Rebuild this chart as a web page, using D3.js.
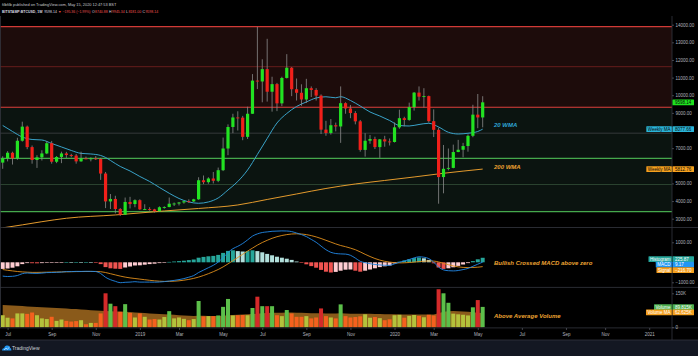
<!DOCTYPE html>
<html><head><meta charset="utf-8">
<script src="https://cdn.jsdelivr.net/npm/d3@7"></script>
<style>html,body{margin:0;padding:0;background:#000;overflow:hidden}svg{display:block}text{font-family:"Liberation Sans",Arial,sans-serif}</style>
</head><body>
<svg id="c" width="698" height="356"></svg>
<script>
// ---------- DATA ----------
const openP = [6180,6420,6740,6420,7420,8220,7060,6330,6480,6700,
 7280,6230,6500,6700,6610,6580,6250,6420,6410,6420,
 6390,5560,3980,4120,3550,3230,3950,3830,4050,3530,
 3550,3530,3420,3650,3660,3850,3860,3920,3990,3980,
 4100,5180,5070,5280,5150,5750,6980,8200,8740,8730,
 7640,8950,10830,10780,11480,10200,10630,9540,10980,11560,
 10340,10140,9760,10400,10300,9980,8050,7860,8300,8230,
 9550,9250,8990,8520,6900,7420,7520,7060,7500,7380,
 7350,8180,8700,8600,9330,10150,9920,9950,8530,8040,
 5360,5830,5880,6780,6910,7120,7700,8900,8740.88];
const closeP = [6420,6740,6420,7420,8220,7060,6330,6480,6700,7280,
 6230,6500,6700,6610,6580,6250,6420,6410,6420,6390,
 5560,3980,4120,3550,3230,3950,3830,4050,3530,3550,
 3530,3420,3650,3660,3850,3860,3920,3990,3980,4100,
 5180,5070,5280,5150,5750,6980,8200,8740,8730,7640,
 8950,10830,10780,11480,10200,10630,9540,10980,11560,10340,
 10140,9760,10400,10300,9980,8050,7860,8300,8230,9550,
 9250,8990,8520,6900,7420,7520,7060,7500,7380,7350,
 8180,8700,8600,9330,10150,9920,9950,8530,8040,5360,
 5830,5880,6780,6910,7120,7700,8900,8740.88,9598.14];
const highP = [6540,6830,6800,7590,8500,8280,7150,6600,6880,7400,
 7410,6550,6800,6790,6680,6670,6800,6520,6480,6550,
 6450,5650,4400,4300,3600,4200,4240,4100,4100,3820,
 3650,3560,3700,3700,4200,3920,3950,4000,4100,4130,
 5350,5450,5350,5650,5900,7600,8350,8950,9090,8830,
 9350,11200,13880,12040,13200,11050,10700,11050,12330,11600,
 10950,10620,10930,10500,10400,10050,8550,8650,8450,10500,
 9600,9450,9100,8600,7850,7750,7650,7520,7700,7550,
 8460,9180,8780,9580,10180,10500,10400,9980,9200,8160,
 7180,6980,7200,7470,7300,7780,9460,10070,9945.34];
const lowP = [5830,6250,6070,6340,7370,6940,6120,5880,6300,6660,
 6120,6150,6150,6450,6480,6120,6230,6370,6250,6330,
 5200,3600,3550,3300,3150,3220,3580,3650,3500,3500,
 3450,3350,3380,3570,3650,3720,3750,3850,3900,3940,
 4070,4960,4980,5000,5070,5700,6600,7850,8000,7450,
 7520,8950,10350,9600,9640,9070,9100,9380,10950,9950,
 9700,9400,9560,9900,9700,7800,7700,7770,7950,7300,
 8950,8700,8350,6800,6520,7250,6950,6450,7080,7150,
 7320,8100,8240,8550,9130,9700,9300,8450,7630,3850,
 4440,5740,5860,6770,6480,6800,7620,8130,8181];
// weekly volume (K BTC)
const volume = [53,42,39,61,61,59,65,53,39,36,
 46,28,34,28,25,27,31,13,19,19,
 61,150,104,93,68,102,63,43,61,46,
 34,36,34,45,71,39,43,37,31,36,
 116,48,49,49,52,90,125,52,53,54,
 53,85,135,93,93,93,53,49,76,61,
 46,46,49,39,43,83,49,43,39,101,
 49,43,45,48,57,42,45,40,31,35,
 53,55,42,50,54,50,44,55,52,168,
 150,108,60,57,55,52,88,120,89.815];
const volumeMA = [98,97,96,95,94,92,90,89,88,87,
 86,85,84,83,81,80,78,77,75,74,
 73,72,71,70,69,68,67,65,64,63,
 61,60,58,57,56,55,53,52,51,50,
 51,51,50,50,50,51,53,54,55,56,
 57,58,60,62,63,64,64,64,65,65,
 64,64,63,62,62,62,61,61,61,62,
 61,60,60,60,59,59,58,58,57,57,
 57,56,56,56,56,56,56,56,56,62,
 68,71,72,71,70,68,66,64,62.625];
const macdLine = [-690,-710,-700,-660,-570,-535,-550,-555,-540,-515,
 -510,-500,-490,-465,-465,-455,-457,-450,-453,-463,
 -560,-750,-870,-950,-1020,-1000,-990,-970,-990,-990,
 -990,-995,-985,-965,-935,-905,-865,-815,-745,-665,
 -510,-390,-270,-150,10,240,490,680,800,940,
 1120,1310,1420,1490,1520,1550,1560,1570,1565,1535,
 1465,1385,1285,1145,1000,810,630,500,440,420,
 410,350,210,50,-20,-70,-110,-130,-150,-150,
 -80,0,65,140,220,275,255,185,10,-240,
 -380,-420,-430,-410,-365,-305,-200,-95,9.17];
const signalLine = [-360,-400,-430,-460,-480,-495,-505,-505,-500,-495,
 -490,-485,-480,-475,-470,-465,-462,-460,-458,-458,
 -470,-510,-570,-630,-690,-740,-780,-810,-840,-870,
 -900,-925,-945,-955,-955,-945,-925,-895,-855,-805,
 -740,-660,-570,-470,-360,-230,-80,80,240,400,
 560,710,860,990,1100,1200,1280,1340,1385,1415,
 1425,1415,1385,1335,1270,1190,1100,1010,920,840,
 780,710,630,520,400,290,190,110,50,10,
 -20,-30,-25,-10,10,35,55,65,60,20,
 -50,-120,-180,-230,-255,-265,-260,-245,-216.70];
const histogram = [-330,-310,-270,-200,-90,-40,-45,-50,-40,-20,
 -20,-15,-10,10,5,10,5,10,5,-5,
 -90,-240,-300,-320,-330,-260,-210,-160,-150,-120,
 -90,-70,-40,-10,20,40,60,80,110,140,
 230,270,300,320,370,470,570,600,560,540,
 560,600,560,500,420,350,280,230,180,120,
 40,-30,-100,-190,-270,-380,-470,-510,-480,-420,
 -370,-360,-420,-470,-420,-360,-300,-240,-200,-160,
 -60,30,90,150,210,240,200,120,-50,-260,
 -330,-300,-250,-180,-110,-40,60,150,225.87];
// moving averages read at sampled weeks (index into weeks)
const wma20Idx = [0,2,4,6,8,10,12,14,16,18,20,21,22,24,26,28,30,32,34,36,38,40,42,44,46,48,50,52,54,56,58,60,62,64,66,68,69,71,73,75,77,79,81,83,85,87,89,91,93,95,97,98];
const wma20 = [8286,7946,7634,7492,7464,7265,7067,6868,6704,6670,6585,6472,6302,5962,5706,5394,5111,4771,4442,4147,3949,3875,3949,4176,4629,5111,5763,6642,7549,8427,8966,9363,9618,9845,9913,9856,9918,9703,9391,9051,8824,8569,8286,8257,8342,8410,8201,7900,7804,7844,7946,8077.66];
const wma200Idx = [0,4,8,13,23,33,40,48,54,60,66,72,78,84,90,98];
const wma200 = [2480,2650,2830,3025,3212,3439,3580,3779,4091,4402,4714,4969,5168,5366,5576,5812.76];
const levelPrices = [13890,11620,9320,7850,6420,4940,3400];
const priceTicks = [3000,4000,5000,7000,9000,10000,11000,12000,13000,14000];
const tickDates = ['2018-07-02','2018-09-03','2018-11-05','2019-01-07','2019-03-04','2019-05-06','2019-07-01','2019-09-02','2019-11-04','2020-01-06','2020-03-02','2020-05-04','2020-07-06','2020-09-07','2020-11-02','2021-01-04'];
const tickLabels = ['Jul','Sep','Nov','2019','Mar','May','Jul','Sep','Nov','2020','Mar','May','Jul','Sep','Nov','2021'];

// ---------- LAYOUT ----------
const svg = d3.select('#c');
const W = 698, H = 356, PR = 672;
const weeks = d3.timeMonday.range(new Date(2018,5,25), new Date(2020,4,12));
const parse = d3.timeParse('%Y-%m-%d');
const x = d3.scaleTime().domain([new Date(2018,5,25), new Date(2021,0,4)]).range([2.7, 649.2]);
const y = d3.scaleLinear().domain([3000,14000]).range([218.7,24.7]);
const ym = d3.scaleLinear().domain([-1000,1000]).range([282.3,242.3]);
const yv = d3.scaleLinear().domain([0,150]).range([327.2,293.3]);
const P = {top:16, bot:227.5}, M = {top:227.8, bot:287.2}, V = {top:287.6, bot:327.7};

svg.append('rect').attr('width',W).attr('height',H).attr('fill','#000');
svg.append('rect').attr('y',340).attr('width',W).attr('height',16).attr('fill','#131722');

const defs = svg.append('defs');
function clip(id, t, b){ defs.append('clipPath').attr('id',id).append('rect').attr('x',0).attr('y',t).attr('width',PR).attr('height',b-t); }
clip('cp',P.top,P.bot); clip('cm',M.top,M.bot); clip('cv',V.top,V.bot);

// ---------- PRICE PANE ----------
const gp = svg.append('g').attr('clip-path','url(#cp)');
gp.append('rect').attr('x',0).attr('width',PR).attr('y',y(levelPrices[0])).attr('height',y(levelPrices[2])-y(levelPrices[0])).attr('fill','#1d0c0b');
gp.append('rect').attr('x',0).attr('width',PR).attr('y',y(levelPrices[2])).attr('height',y(levelPrices[6])-y(levelPrices[2])).attr('fill','#0b1410');
const levelColors = ['#d03a36','#6e1e1e','#e0403c','#3a3d40','#45a84c','#2f4834','#45a84c'];
levelPrices.forEach((p,i)=>{
  gp.append('line').attr('x1',0).attr('x2',PR).attr('y1',y(p)).attr('y2',y(p))
    .attr('stroke',levelColors[i]).attr('stroke-width', i===1||i===3||i===5 ? 0.9 : 1.2);
});
// 200 WMA
gp.append('path').datum(wma200Idx.map((k,j)=>({d:weeks[k],v:wma200[j]})))
  .attr('d',d3.line().x(d=>x(d.d)).y(d=>y(d.v)).curve(d3.curveMonotoneX))
  .attr('fill','none').attr('stroke','#e39a2d').attr('stroke-width',1);
// 20 WMA
gp.append('path').datum(wma20Idx.map((k,j)=>({d:weeks[k],v:wma20[j]})))
  .attr('d',d3.line().x(d=>x(d.d)).y(d=>y(d.v)).curve(d3.curveMonotoneX))
  .attr('fill','none').attr('stroke','#3aa3c9').attr('stroke-width',1);
// candles
const up = '#22e322', dn = '#f0201a';
weeks.forEach((d,i)=>{
  const cx = x(d);
  gp.append('line').attr('x1',cx).attr('x2',cx).attr('y1',y(highP[i])).attr('y2',y(lowP[i]))
    .attr('stroke','#8c8c8c').attr('stroke-width',0.8);
  const t = Math.min(y(openP[i]),y(closeP[i])), b = Math.max(y(openP[i]),y(closeP[i]));
  gp.append('rect').attr('x',cx-1.6).attr('width',3.2).attr('y',t).attr('height',Math.max(0.9,b-t))
    .attr('fill', closeP[i]>=openP[i]?up:dn);
});
// annotations
const ann = (tx,ty,s,c)=>svg.append('text').attr('x',tx).attr('y',ty).text(s).attr('fill',c)
  .attr('font-size',6).attr('font-weight','bold').attr('font-style','italic');
ann(494,127.2,'20 WMA','#2ea6d4');
ann(494,169,'200 WMA','#eba232');
ann(494,264.8,'Bullish Crossed MACD above zero','#eba232');
ann(494,317.8,'Above Average Volume','#eba232');

// ---------- MACD PANE ----------
const gm = svg.append('g').attr('clip-path','url(#cm)');
weeks.forEach((d,i)=>{
  const v = histogram[i], pv = i>0 ? histogram[i-1] : v;
  const col = v>=0 ? (v>=pv ? '#26a69a' : '#b2dfdb') : (v>=pv ? '#ffcdd2' : '#ef5350');
  const t = Math.min(ym(v),ym(0)), h = Math.abs(ym(v)-ym(0));
  gm.append('rect').attr('x',x(d)-2).attr('width',4).attr('y',t).attr('height',Math.max(0.6,h)).attr('fill',col);
});
const lineW = d3.line().x((v,i)=>x(weeks[i])).y(v=>ym(v)).curve(d3.curveMonotoneX);
gm.append('path').datum(signalLine).attr('d',lineW).attr('fill','none').attr('stroke','#e08e1c').attr('stroke-width',0.9);
gm.append('path').datum(macdLine).attr('d',lineW).attr('fill','none').attr('stroke','#2389e8').attr('stroke-width',0.9);

// ---------- VOLUME PANE ----------
const gv = svg.append('g').attr('clip-path','url(#cv)');
gv.append('path').datum(volumeMA)
  .attr('d',d3.area().x((v,i)=>x(weeks[i])).y0(yv(0)).y1(v=>yv(v)))
  .attr('fill','#8a5a1a');
weeks.forEach((d,i)=>{
  const isUp = closeP[i]>=openP[i], above = volume[i]>volumeMA[i];
  const col = isUp ? (above?'#5cbf4a':'#b4c23c') : (above?'#d42a2a':'#f4611e');
  gv.append('rect').attr('x',x(d)-2).attr('width',4).attr('y',yv(volume[i])).attr('height',yv(0)-yv(volume[i])).attr('fill',col);
});

// ---------- SEPARATORS ----------
const sep = '#33363f';
[[0,W,227.5,227.5],[0,W,287.4,287.4],[0,W,327.9,327.9],[0,W,340,340],[PR,PR,16,340],[0.5,0.5,16,328]].forEach(s=>{
  svg.append('line').attr('x1',s[0]).attr('x2',s[1]).attr('y1',s[2]).attr('y2',s[3]).attr('stroke',sep).attr('stroke-width',0.8);
});

// ---------- AXES ----------
function styleAxis(g){
  g.select('.domain').remove();
  g.selectAll('line').attr('stroke','#6a6d78').attr('stroke-width',0.6);
  g.selectAll('text').attr('fill','#b2b5be').attr('font-size',4.5).attr('font-family','"Liberation Sans",Arial,sans-serif');
}
svg.append('g').attr('transform',`translate(${PR},0)`)
  .call(d3.axisRight(y).tickValues(priceTicks).tickFormat(d3.format('.2f')).tickSize(2).tickPadding(1.5)).call(styleAxis);
svg.append('g').attr('transform',`translate(${PR},0)`)
  .call(d3.axisRight(ym).tickValues([-1000,1000]).tickFormat(d3.format('.2f')).tickSize(2).tickPadding(1.5)).call(styleAxis);
svg.append('g').attr('transform',`translate(${PR},0)`)
  .call(d3.axisRight(yv).tickValues([0,150]).tickFormat(d=>d?d+'K':'0').tickSize(2).tickPadding(1.5)).call(styleAxis);
svg.append('g').attr('transform','translate(0,328)')
  .call(d3.axisBottom(x).tickValues(tickDates.map(parse)).tickFormat((d,i)=>tickLabels[i]).tickSize(2).tickPadding(2.5)).call(styleAxis);

// ---------- AXIS TAGS ----------
function tag(yc, name, value, bg, fg){
  const g = svg.append('g'), h = 5.8;
  g.append('rect').attr('x',PR+0.5).attr('y',yc-h/2).attr('width',21.5).attr('height',h).attr('fill',bg).attr('rx',0.5);
  g.append('text').attr('x',PR+3).attr('y',yc+1.6).text(value).attr('font-size',4.5).attr('fill',fg);
  if(name){
    const r = g.append('rect').attr('y',yc-h/2).attr('height',h).attr('fill',bg).attr('rx',0.5);
    const t = g.append('text').attr('x',PR-1.5).attr('y',yc+1.6).attr('text-anchor','end').text(name).attr('font-size',4.5).attr('fill',fg);
    const w = t.node().getComputedTextLength();
    r.attr('x',PR-w-3).attr('width',w+2.8);
  }
}
tag(y(closeP[closeP.length-1]), null, d3.format('.2f')(closeP[closeP.length-1]), '#1ee21e', '#0b0b0b');
tag(y(wma20[wma20.length-1]), 'Weekly MA', d3.format('.2f')(wma20[wma20.length-1]), '#2ab4d8', '#0b0b0b');
tag(y(wma200[wma200.length-1]), 'Weekly MA', d3.format('.2f')(wma200[wma200.length-1]), '#f5a01e', '#0b0b0b');
tag(259.2, 'Histogram', d3.format('.2f')(histogram[histogram.length-1]), '#26a69a', '#ffffff');
tag(264.6, 'MACD', d3.format('.2f')(macdLine[macdLine.length-1]), '#2196f3', '#ffffff');
tag(270.2, 'Signal', d3.format('.2f')(signalLine[signalLine.length-1]), '#f5a01e', '#ffffff');
tag(307.2, 'Volume', d3.format('.3f')(volume[volume.length-1])+'K', '#4caf50', '#ffffff');
tag(312.4, 'Volume MA', d3.format('.3f')(volumeMA[volumeMA.length-1])+'K', '#f5a01e', '#ffffff');

// ---------- HEADER ----------
svg.append('text').attr('x',2).attr('y',5.6).attr('font-size',3.9).attr('fill','#c8cad0')
  .text('filbfilb published on TradingView.com, May 15, 2020 12:47:53 BST');
const h2 = svg.append('text').attr('x',2).attr('y',12.6).attr('font-size',3.5).attr('fill','#d8dae0');
h2.append('tspan').text('BITSTAMP:BTCUSD, 1W').attr('font-weight','bold');
h2.append('tspan').attr('dx',1.6).text('9598.14');
h2.append('tspan').attr('dx',1.2).attr('fill','#ef5350').text('▼ −195.36 (−1.99%)');
const ohlc = [['O','8740.88'],['H','9945.34'],['L','8181.00'],['C','9598.14']];
ohlc.forEach(o=>{
  h2.append('tspan').attr('dx',1.4).text(o[0]);
  h2.append('tspan').attr('dx',0.4).attr('fill','#ef5350').text(o[1]);
});

// ---------- FOOTER ----------
const logo = svg.append('g').attr('transform','translate(2,344)');
logo.append('path').attr('d','M0,6.5 Q0,4 2.2,4 Q2.6,1.2 5,1.5 Q7.6,1.2 8,3.8 Q9.6,4.2 9.4,6.5 Z').attr('fill','#2196f3');
logo.append('path').attr('d','M2,6 L4,4.2 L5.4,5.2 L7.6,3').attr('fill','none').attr('stroke','#ffffff').attr('stroke-width',0.6);
svg.append('text').attr('x',12).attr('y',349.6).attr('font-size',5).attr('fill','#d1d4dc').text('TradingView');
</script>
</body></html>
